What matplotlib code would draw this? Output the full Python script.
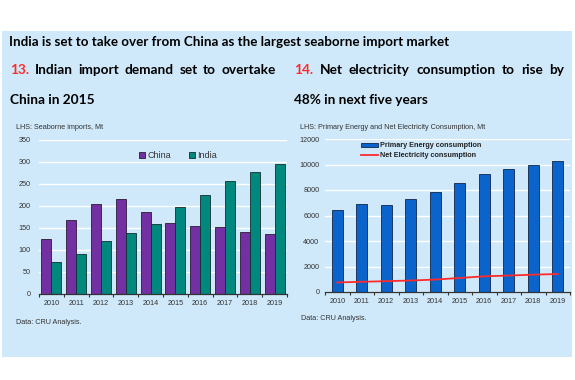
import matplotlib
matplotlib.use("Agg")
import matplotlib.pyplot as plt
import numpy as np
from matplotlib.patches import Rectangle

years = ["2010", "2011", "2012", "2013", "2014", "2015", "2016", "2017", "2018", "2019"]
china = [125, 167, 203, 216, 186, 160, 154, 151, 140, 137]
india = [73, 91, 121, 139, 158, 196, 225, 255, 277, 295]
primary_energy = [6450, 6930, 6800, 7290, 7810, 8520, 9220, 9610, 10000, 10290]
net_electricity = [750, 800, 850, 900, 975, 1100, 1230, 1290, 1360, 1410]

BG = "#cfe9fa"
PURPLE = "#7330a3"
TEAL = "#00877e"
BLUE = "#0a64cc"
RED = "#ff2a2a"
HEAD_FONT = "Lato"
SMALL_FONT = "Liberation Sans"

fig = plt.figure(figsize=(5.75, 3.8), dpi=100)
fig.patch.set_facecolor("white")
fig.patches.append(Rectangle((2 / 575, 1 - 357 / 380), 570 / 575, 326 / 380,
                             transform=fig.transFigure, facecolor=BG,
                             edgecolor="none", zorder=-5))


def px(x, y):
    return x / 575, 1 - y / 380


def justify(words, x0, x1, y, size, lead=None):
    # spread words across x0..x1 like a justified paragraph line
    r = fig.canvas.get_renderer()
    texts = []
    if lead:
        texts.append(fig.text(*px(x0, y), lead, color=RED, fontsize=size,
                              fontweight="bold", family=HEAD_FONT, va="center"))
    for w in words:
        texts.append(fig.text(0, px(x0, y)[1], w, fontsize=size,
                              fontweight="bold", family=HEAD_FONT, va="center"))
    widths = [t.get_window_extent(r).width for t in texts]
    gap = (x1 - x0 - sum(widths)) / (len(texts) - 1)
    x = x0
    for t, w in zip(texts, widths):
        t.set_x(x / 575)
        x += w + gap


fig.text(*px(9, 42), "India is set to take over from China as the largest seaborne import market",
         fontsize=9.6, fontweight="bold", family=HEAD_FONT, va="center")

justify(["Indian", "import", "demand", "set", "to", "overtake"], 10, 276, 70, 9.8, lead="13.")
fig.text(*px(10, 100), "China in 2015", fontsize=9.8, fontweight="bold",
         family=HEAD_FONT, va="center")
justify(["Net", "electricity", "consumption", "to", "rise", "by"], 294, 564, 70, 9.8, lead="14.")
fig.text(*px(294, 100), "48% in next five years", fontsize=9.8, fontweight="bold",
         family=HEAD_FONT, va="center")

fig.text(*px(16, 128), "LHS: Seaborne imports, Mt", fontsize=5.2,
         family=SMALL_FONT, color="#333333", va="center")
fig.text(*px(300, 128), "LHS: Primary Energy and Net Electricity Consumption, Mt",
         fontsize=5.2, family=SMALL_FONT, color="#333333", va="center")
fig.text(*px(16, 322), "Data: CRU Analysis.", fontsize=5.2,
         family=SMALL_FONT, color="#333333", va="center")
fig.text(*px(301, 318), "Data: CRU Analysis.", fontsize=5.2,
         family=SMALL_FONT, color="#333333", va="center")


def style_axis(ax, ypad):
    ax.set_facecolor("none")
    for s in ["top", "right", "left"]:
        ax.spines[s].set_visible(False)
    ax.spines["bottom"].set_color("#333333")
    ax.spines["bottom"].set_linewidth(0.9)
    ax.grid(axis="y", color="white", linewidth=1.0)
    ax.set_axisbelow(True)
    ax.tick_params(axis="y", length=0, labelsize=5.2, labelcolor="#333333", pad=ypad)
    ax.tick_params(axis="x", which="major", length=0, labelsize=5.2,
                   labelcolor="#333333", pad=4)
    ax.tick_params(axis="x", which="minor", length=2, width=0.8, color="#333333")
    ax.set_xticks(np.arange(len(years)))
    ax.set_xticklabels(years)
    ax.set_xticks(np.arange(len(years) + 1) - 0.5, minor=True)
    ax.set_xlim(-0.5, len(years) - 0.5)
    for lab in ax.get_xticklabels() + ax.get_yticklabels():
        lab.set_family(SMALL_FONT)


# left: seaborne imports
x = np.arange(len(years))
ax1 = fig.add_axes([39 / 575, 1 - 294 / 380, 248 / 575, 154.5 / 380])
ax1.bar(x - 0.2, china, width=0.4, color=PURPLE, edgecolor="#2a1a33",
        linewidth=0.6, label="China")
ax1.bar(x + 0.2, india, width=0.4, color=TEAL, edgecolor="#0f2f2c",
        linewidth=0.6, label="India")
ax1.set_ylim(0, 350)
ax1.set_yticks(range(0, 351, 50))
style_axis(ax1, 6)
leg1 = ax1.legend(loc="upper center", bbox_to_anchor=(0.56, 0.975), ncol=2, frameon=False,
                  prop={"family": SMALL_FONT, "size": 6.5}, handlelength=0.7,
                  handleheight=0.7, handletextpad=0.2, columnspacing=2.0)
for t in leg1.get_texts():
    t.set_color("#333333")

# right: energy consumption
ax2 = fig.add_axes([325 / 575, 1 - 292 / 380, 245 / 575, 153 / 380])
bars = ax2.bar(x, primary_energy, width=0.45, color=BLUE, edgecolor="#10264a",
               linewidth=0.6, label="Primary Energy consumption")
line, = ax2.plot(x, net_electricity, color=RED, linewidth=1.3,
                 label="Net Electricity consumption")
ax2.set_ylim(0, 12000)
ax2.set_yticks(range(0, 12001, 2000))
style_axis(ax2, 4)
leg2 = ax2.legend(handles=[bars, line], loc="upper left", bbox_to_anchor=(0.12, 1.02),
                  frameon=False,
                  prop={"family": SMALL_FONT, "size": 5.2, "weight": "bold"},
                  handlelength=2.4, handleheight=0.5, handletextpad=0.3,
                  labelspacing=0.35)
for t in leg2.get_texts():
    t.set_color("#222222")

fig.savefig("out.png", dpi=100, facecolor=fig.get_facecolor())
